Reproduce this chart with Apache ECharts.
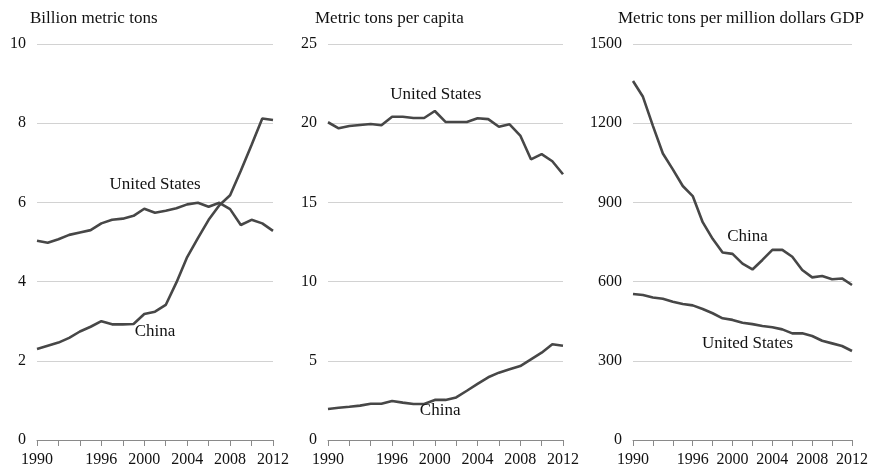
<!DOCTYPE html>
<html>
<head>
<meta charset="utf-8">
<script src="https://cdn.jsdelivr.net/npm/echarts@6/dist/echarts.min.js"></script>
<style>
  html, body { margin: 0; padding: 0; background: #fff; }
  #chart { width: 880px; height: 471px; }
</style>
</head>
<body>
<div id="chart"></div>
<script>
// Years on the horizontal axis
const years = [1990, 1991, 1992, 1993, 1994, 1995, 1996, 1997, 1998, 1999, 2000,
  2001, 2002, 2003, 2004, 2005, 2006, 2007, 2008, 2009, 2010, 2011, 2012];
const shownYears = [1990, 1996, 2000, 2004, 2008, 2012];

// Total emissions, billion metric tons
const totalUS = [5.03, 4.98, 5.07, 5.18, 5.24, 5.30, 5.47, 5.56, 5.59, 5.66, 5.84,
  5.74, 5.79, 5.85, 5.95, 5.99, 5.89, 5.99, 5.83, 5.43, 5.56, 5.47, 5.28];
const totalChina = [2.30, 2.38, 2.46, 2.58, 2.74, 2.86, 3.00, 2.92, 2.92, 2.93, 3.18,
  3.24, 3.41, 3.98, 4.62, 5.10, 5.56, 5.93, 6.18, 6.80, 7.45, 8.12, 8.08];

// Per capita emissions, metric tons
const perCapitaUS = [20.06, 19.68, 19.82, 19.89, 19.95, 19.87, 20.41, 20.41, 20.33, 20.33, 20.77,
  20.08, 20.08, 20.08, 20.31, 20.26, 19.78, 19.93, 19.22, 17.72, 18.05, 17.60, 16.78];
const perCapitaChina = [1.96, 2.04, 2.10, 2.17, 2.29, 2.29, 2.46, 2.36, 2.27, 2.27, 2.53,
  2.53, 2.69, 3.11, 3.54, 3.96, 4.25, 4.46, 4.67, 5.09, 5.51, 6.04, 5.95];

// Emission intensity, metric tons per million dollars GDP
const intensityUS = [553, 549, 540, 535, 524, 515, 510, 496, 480, 461, 455,
  444, 439, 432, 427, 419, 404, 404, 394, 376, 366, 356, 337];
const intensityChina = [1360, 1300, 1190, 1085, 1025, 962, 924, 825, 762, 710, 705,
  668, 646, 682, 720, 720, 694, 644, 616, 621, 609, 612, 587];

const panelTitles = ['Billion metric tons', 'Metric tons per capita', 'Metric tons per million dollars GDP'];

const FONT = '"Liberation Serif", "Times New Roman", serif';
const INK = '#111';
const LINE = '#474747';

const pair = (vals) => years.map((y, i) => [y, vals[i]]);

const grids = [
  { left: 37, top: 44, width: 236, height: 396 },
  { left: 328, top: 44, width: 235, height: 396 },
  { left: 633, top: 44, width: 219, height: 396 }
];

const yRanges = [
  { max: 10, interval: 2 },
  { max: 25, interval: 5 },
  { max: 1500, interval: 300 }
];

const xAxes = grids.map((g, i) => ({
  type: 'value', gridIndex: i, min: 1990, max: 2012, interval: 2,
  axisLine: { show: true, lineStyle: { color: '#8a8a8a', width: 1 } },
  axisTick: { show: true, length: 6, lineStyle: { color: '#8a8a8a' } },
  splitLine: { show: false },
  axisLabel: {
    fontFamily: FONT, fontSize: 16, color: INK, margin: 12,
    formatter: (v) => shownYears.includes(v) ? String(v) : ''
  }
}));

const yAxes = yRanges.map((r, i) => ({
  type: 'value', gridIndex: i, min: 0, max: r.max, interval: r.interval,
  axisLine: { show: false }, axisTick: { show: false },
  splitLine: { show: true, lineStyle: { color: '#d2d2d2', width: 1.2 } },
  axisLabel: { fontFamily: FONT, fontSize: 16, color: INK, margin: 11,
    formatter: (v) => String(v) }
}));

// Series name label sitting beside each line, anchored in data coordinates
function lineSeries(name, vals, idx, at) {
  return {
    type: 'line', name, xAxisIndex: idx, yAxisIndex: idx,
    data: pair(vals), showSymbol: false, symbol: 'none',
    lineStyle: { color: LINE, width: 2.6 },
    markPoint: {
      symbol: 'circle', symbolSize: 0, silent: true,
      label: { show: true, position: 'inside', formatter: name,
        fontFamily: FONT, fontSize: 17, color: INK },
      data: [{ coord: at }]
    }
  };
}

const series = [
  lineSeries('United States', totalUS, 0, [2001, 6.46]),
  lineSeries('China', totalChina, 0, [2001, 2.73]),
  lineSeries('United States', perCapitaUS, 1, [2000.1, 21.84]),
  lineSeries('China', perCapitaChina, 1, [2000.5, 1.83]),
  lineSeries('China', intensityChina, 2, [2001.5, 769]),
  lineSeries('United States', intensityUS, 2, [2001.5, 364])
];

const titleLefts = [25, 310, 613];
const title = panelTitles.map((t, i) => ({
  text: t, left: titleLefts[i], top: 5,
  textStyle: { fontFamily: FONT, fontSize: 17, fontWeight: 'normal', color: INK }
}));

const chart = echarts.init(document.getElementById('chart'), null, { renderer: 'canvas' });
chart.setOption({
  backgroundColor: '#fff',
  animation: false,
  title,
  grid: grids,
  xAxis: xAxes,
  yAxis: yAxes,
  series
});
</script>
</body>
</html>
